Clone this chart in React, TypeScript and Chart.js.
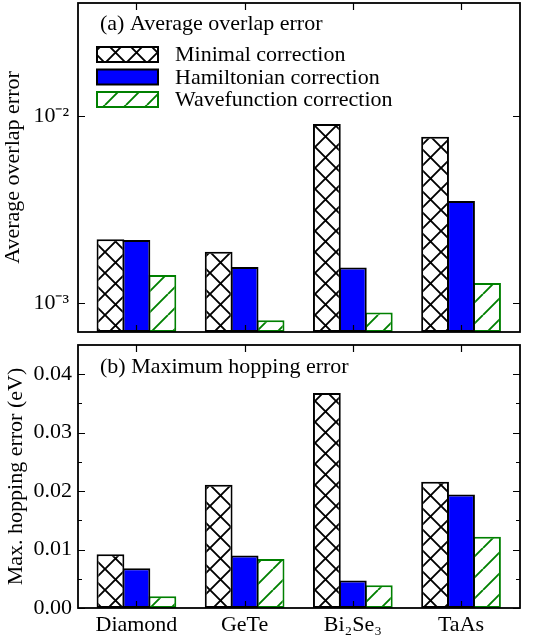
import React, { useEffect, useRef } from "react";
import { Chart, registerables } from "chart.js";

Chart.register(...registerables);

// Materials on the shared x axis
const materials = ["Diamond", "GeTe", "Bi₂Se₃", "TaAs"];
const seriesNames = ["Minimal correction", "Hamiltonian correction", "Wavefunction correction"];

// (a) Average overlap error (log scale)
const overlapMinimal = [2.19e-3, 1.88e-3, 9.06e-3, 7.75e-3];
const overlapHamiltonian = [2.17e-3, 1.56e-3, 1.55e-3, 3.51e-3];
const overlapWavefunction = [1.41e-3, 8.1e-4, 8.9e-4, 1.28e-3];

// (b) Maximum hopping error in eV
const hoppingMinimal = [0.0092, 0.0211, 0.0368, 0.0216];
const hoppingHamiltonian = [0.0068, 0.009, 0.0047, 0.0194];
const hoppingWavefunction = [0.002, 0.0084, 0.0039, 0.0122];

// Axis ticks
const overlapTicks = [1e-3, 1e-2];
const overlapTickLabels = ["10⁻³", "10⁻²"];
const hoppingTicks = [0, 0.01, 0.02, 0.03, 0.04];
const hoppingTickLabels = ["0.00", "0.01", "0.02", "0.03", "0.04"];
const hoppingMinorTicks = [0.005, 0.015, 0.025, 0.035];

const FONT_FAMILY = "'Liberation Serif', 'Times New Roman', serif";
const FONT = { family: FONT_FAMILY, size: 22 };
const HATCH_PERIOD = 21;

function makeHatch(kind: "x" | "/", color: string): CanvasPattern {
  const p = HATCH_PERIOD;
  const c = document.createElement("canvas");
  c.width = p;
  c.height = p;
  const g = c.getContext("2d")!;
  g.fillStyle = "#ffffff";
  g.fillRect(0, 0, p, p);
  g.strokeStyle = color;
  g.lineWidth = 1.9;
  g.beginPath();
  for (let k = -1; k <= 1; k++) {
    g.moveTo(k * p, p);
    g.lineTo(k * p + p, 0);
    if (kind === "x") {
      g.moveTo(k * p, 0);
      g.lineTo(k * p + p, p);
    }
  }
  g.stroke();
  return g.createPattern(c, "repeat")!;
}

function makeDatasets(values: number[][]) {
  const styles = [
    { backgroundColor: makeHatch("x", "#000000"), borderColor: "#000000" },
    { backgroundColor: "#0000ff", borderColor: "#000000" },
    { backgroundColor: makeHatch("/", "#008000"), borderColor: "#008000" },
  ];
  return values.map((vals, s) => ({
    label: seriesNames[s],
    data: vals.map((v, i) => ({ x: i, y: v })),
    backgroundColor: styles[s].backgroundColor,
    borderColor: styles[s].borderColor,
    borderWidth: 2,
    borderSkipped: false as const,
    inflateAmount: 0,
    categoryPercentage: 0.72,
    barPercentage: 1.07,
  }));
}

// Frame, inward ticks, panel caption and (optionally) legend
const panelPlugin = {
  id: "panel",
  afterDatasetsDraw(chart: any, _args: any, opts: any) {
    const { ctx, chartArea: a } = chart;
    const xs = chart.scales.x;
    const ys = chart.scales.y;
    ctx.save();
    ctx.strokeStyle = "#000";
    ctx.lineWidth = 1.2;
    ctx.beginPath();
    for (let i = 0; i < materials.length; i++) {
      const px = Math.round(xs.getPixelForValue(i)) + 0.5;
      ctx.moveTo(px, a.bottom);
      ctx.lineTo(px, a.bottom - 7);
      ctx.moveTo(px, a.top);
      ctx.lineTo(px, a.top + 7);
    }
    for (const v of opts.major as number[]) {
      const py = Math.round(ys.getPixelForValue(v)) + 0.5;
      ctx.moveTo(a.left, py);
      ctx.lineTo(a.left + 7, py);
      ctx.moveTo(a.right, py);
      ctx.lineTo(a.right - 7, py);
    }
    for (const v of opts.minor as number[]) {
      const py = Math.round(ys.getPixelForValue(v)) + 0.5;
      ctx.moveTo(a.left, py);
      ctx.lineTo(a.left + 4, py);
      ctx.moveTo(a.right, py);
      ctx.lineTo(a.right - 4, py);
    }
    ctx.stroke();

    ctx.lineWidth = 1.8;
    ctx.strokeRect(a.left, a.top, a.right - a.left, a.bottom - a.top);

    ctx.fillStyle = "#000";
    ctx.font = `${FONT.size}px ${FONT_FAMILY}`;
    ctx.textAlign = "left";
    ctx.textBaseline = "alphabetic";
    ctx.fillText(opts.caption, a.left + 22, a.top + opts.captionBaseline);

    if (opts.legend) {
      chart.data.datasets.forEach((ds: any, i: number) => {
        const cy = a.top + 51.5 + i * 22.5;
        const bx = a.left + 19;
        ctx.fillStyle = ds.backgroundColor;
        ctx.fillRect(bx, cy - 7.5, 61, 15);
        ctx.strokeStyle = ds.borderColor;
        ctx.lineWidth = 2;
        ctx.strokeRect(bx, cy - 7.5, 61, 15);
        ctx.fillStyle = "#000";
        ctx.textBaseline = "middle";
        ctx.fillText(ds.label, a.left + 97, cy + 1);
      });
    }
    ctx.restore();
  },
};

const xRange = { min: -0.54, max: 3.545, offset: false };

// Pin the axis boxes so the plot areas line up between panels
const fixWidth = (w: number) => (s: any) => {
  s.width = w;
  s.paddingTop = 0;
  s.paddingBottom = 0;
};
const fixHeight = (h: number) => (s: any) => {
  s.height = h;
  s.paddingLeft = 0;
  s.paddingRight = 0;
};
const materialTicks = (s: any) => {
  s.ticks = materials.map((_, i) => ({ value: i }));
};

function overlapConfig(): any {
  return {
    type: "bar",
    data: {
      datasets: makeDatasets([overlapMinimal, overlapHamiltonian, overlapWavefunction]),
    },
    plugins: [panelPlugin],
    options: {
      responsive: false,
      animation: false,
      devicePixelRatio: 1,
      layout: { padding: { top: 3, right: 13, bottom: 6, left: 0 } },
      plugins: {
        legend: { display: false },
        tooltip: { enabled: false },
        panel: {
          major: overlapTicks,
          minor: [],
          caption: "(a) Average overlap error",
          captionBaseline: 27,
          legend: true,
        },
      },
      scales: {
        x: {
          type: "linear",
          ...xRange,
          afterFit: fixHeight(0),
          afterBuildTicks: materialTicks,
          grid: { display: false, drawTicks: false, offset: false },
          border: { display: false },
          ticks: { display: false },
        },
        y: {
          type: "logarithmic",
          min: 7.0e-4,
          max: 0.0402,
          afterFit: fixWidth(78),
          afterBuildTicks: (s: any) => {
            s.ticks = overlapTicks.map((v) => ({ value: v }));
          },
          grid: { display: false, drawTicks: false },
          border: { display: false },
          ticks: {
            font: FONT,
            color: "#000",
            padding: 9,
            callback: (v: number) => {
              const i = overlapTicks.findIndex((t) => Math.abs(t - v) / t < 1e-6);
              return i >= 0 ? overlapTickLabels[i] : "";
            },
          },
          title: {
            display: true,
            text: "Average overlap error",
            font: FONT,
            color: "#000",
            padding: { top: 0, bottom: 0 },
          },
        },
      },
    },
  };
}

function hoppingConfig(): any {
  return {
    type: "bar",
    data: {
      datasets: makeDatasets([hoppingMinimal, hoppingHamiltonian, hoppingWavefunction]),
    },
    plugins: [panelPlugin],
    options: {
      responsive: false,
      animation: false,
      devicePixelRatio: 1,
      layout: { padding: { top: 7, right: 13, bottom: 0, left: 0 } },
      plugins: {
        legend: { display: false },
        tooltip: { enabled: false },
        panel: {
          major: hoppingTicks,
          minor: hoppingMinorTicks,
          caption: "(b) Maximum hopping error",
          captionBaseline: 28,
          legend: false,
        },
      },
      scales: {
        x: {
          type: "linear",
          ...xRange,
          afterFit: fixHeight(33),
          afterBuildTicks: materialTicks,
          grid: { display: false, drawTicks: false, offset: false },
          border: { display: false },
          ticks: {
            font: FONT,
            color: "#000",
            padding: 4,
            autoSkip: false,
            maxRotation: 0,
            callback: (v: number) => materials[Math.round(v)] ?? "",
          },
        },
        y: {
          type: "linear",
          min: 0,
          max: 0.045,
          afterFit: fixWidth(78),
          afterBuildTicks: (s: any) => {
            s.ticks = hoppingTicks.map((v) => ({ value: v }));
          },
          grid: { display: false, drawTicks: false },
          border: { display: false },
          ticks: {
            font: FONT,
            color: "#000",
            padding: 6,
            callback: (v: number) => {
              const i = hoppingTicks.findIndex((t) => Math.abs(t - v) < 1e-9);
              return i >= 0 ? hoppingTickLabels[i] : "";
            },
          },
          title: {
            display: true,
            text: "Max. hopping error (eV)",
            font: FONT,
            color: "#000",
            padding: { top: 3, bottom: 0 },
          },
        },
      },
    },
  };
}

export default function App() {
  const topRef = useRef<HTMLCanvasElement>(null);
  const bottomRef = useRef<HTMLCanvasElement>(null);

  useEffect(() => {
    const top = new Chart(topRef.current!, overlapConfig());
    const bottom = new Chart(bottomRef.current!, hoppingConfig());
    return () => {
      top.destroy();
      bottom.destroy();
    };
  }, []);

  return (
    <div
      style={{
        position: "absolute",
        left: 0,
        top: 0,
        width: 533,
        height: 641,
        background: "#ffffff",
      }}
    >
      <canvas ref={topRef} width={533} height={338} style={{ display: "block" }} />
      <canvas ref={bottomRef} width={533} height={303} style={{ display: "block" }} />
    </div>
  );
}
